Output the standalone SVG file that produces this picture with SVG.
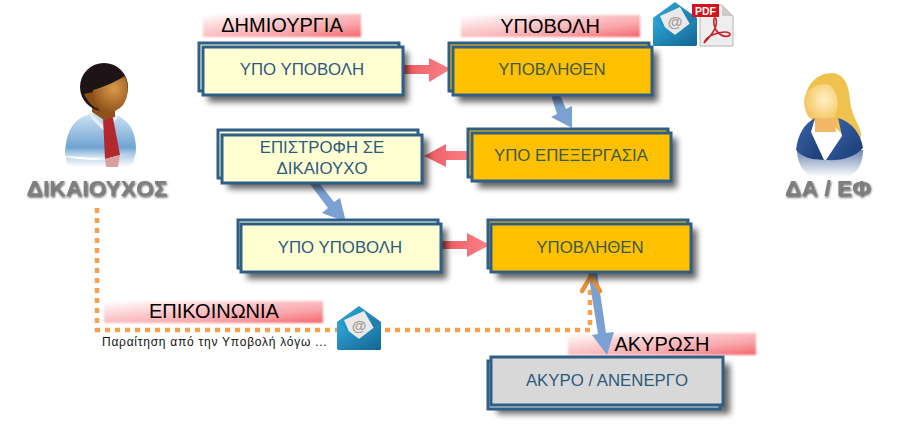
<svg xmlns="http://www.w3.org/2000/svg" width="898" height="435" viewBox="0 0 898 435">
<style>
.b{stroke:#2f5f87;stroke-width:3}
.y{fill:#ffffd2}.o{fill:#ffc000}.g{fill:#d8d8d8}
.t{font-family:"Liberation Sans",Arial,sans-serif;font-size:16.800px;fill:#2c5a7e;text-anchor:middle}
.to{fill:#3d5a4a}
.h{font-family:"Liberation Sans",Arial,sans-serif;font-size:20px;fill:#000;text-anchor:middle}
.a{font-family:"Liberation Sans",Arial,sans-serif;font-size:22.800px;font-weight:bold;fill:#7f7f7f;text-anchor:middle;filter:url(#ts)}
.s{fill:#000;opacity:.6;filter:url(#sh)}
.r{fill:url(#rib);filter:url(#soft)}
.red{fill:url(#redg)}.redl{fill:url(#redl)}.blue{fill:#7ba1d2}
</style>
<defs>
<filter id="sh" x="-15%" y="-40%" width="130%" height="180%"><feGaussianBlur stdDeviation="3"/></filter>
<filter id="soft" x="-5%" y="-30%" width="110%" height="160%"><feGaussianBlur stdDeviation="1.200"/></filter>
<filter id="ts" x="-5%" y="-20%" width="110%" height="150%"><feDropShadow dx="1" dy="1.500" stdDeviation="0.800" flood-color="#555"/></filter>
<linearGradient id="rib" x1="0" y1="0" x2="1" y2="1"><stop offset=".02" stop-color="#fff"/><stop offset=".3" stop-color="#fcd6d8"/><stop offset=".7" stop-color="#f9a4a8"/><stop offset="1" stop-color="#f2636b"/></linearGradient>
<linearGradient id="redg" x1="0" y1="0" x2="1" y2="0"><stop offset="0" stop-color="#ec5a62"/><stop offset="1" stop-color="#fb8386"/></linearGradient>
<linearGradient id="redl" x1="1" y1="0" x2="0" y2="0"><stop offset="0" stop-color="#fb8386"/><stop offset="1" stop-color="#ec5a62"/></linearGradient>
<linearGradient id="env" x1="0" y1="0" x2="1" y2="1"><stop offset="0" stop-color="#2fa9de"/><stop offset="1" stop-color="#14648f"/></linearGradient>
<linearGradient id="shirt" x1="0" y1="0" x2="0" y2="1"><stop offset="0" stop-color="#cfe4f5"/><stop offset=".75" stop-color="#6fa3d1"/><stop offset="1" stop-color="#eaf3fa"/></linearGradient>
<linearGradient id="fade" x1="0" y1="0" x2="0" y2="1"><stop offset="0" stop-color="#9fc0df"/><stop offset="1" stop-color="#fff"/></linearGradient>
<linearGradient id="fade2" x1="0" y1="0" x2="0" y2="1"><stop offset="0" stop-color="#6d86b3"/><stop offset="1" stop-color="#fff"/></linearGradient>
<radialGradient id="face" cx=".6" cy=".35" r=".7"><stop offset="0" stop-color="#d99a4a"/><stop offset="1" stop-color="#8a4e16"/></radialGradient>
<radialGradient id="face2" cx=".6" cy=".4" r=".7"><stop offset="0" stop-color="#fff0c4"/><stop offset="1" stop-color="#f3bd50"/></radialGradient>
<linearGradient id="suit" x1="0" y1="0" x2="1" y2="1"><stop offset="0" stop-color="#3a66ab"/><stop offset="1" stop-color="#1a3a72"/></linearGradient>
<g id="mail">
<path d="M0 16 L22 0 L44 16 V42 Q44 44 42 44 H2 Q0 44 0 42Z" fill="url(#env)"/>
<path d="M7 14 L27 5 L38 24 L22 33 L13 28Z" fill="#e9e9e9"/>
<text x="22" y="25" font-family="Liberation Sans,Arial,sans-serif" font-size="15" font-weight="bold" fill="#a39a96" text-anchor="middle">@</text>
<path d="M0 16 L22 33 L44 16 V42 Q44 44 42 44 H2 Q0 44 0 42Z" fill="url(#env)"/>
</g>
</defs>

<g id="ribbons">
<rect class="r" x="203" y="14" width="158" height="23"/>
<rect class="r" x="461" y="15" width="179" height="22"/>
<rect class="r" x="104" y="301" width="219" height="22"/>
<rect class="r" x="568" y="333" width="188" height="22"/>
</g>

<g id="connectors">
<path class="red" d="M403 65H429V58L451 69L429 82V74H403Z"/>
<path class="redl" d="M472 151H446V144L424 156L446 167V160H472Z"/>
<path class="red" d="M441 241H467V233L490 245L467 257V249H441Z"/>
<path class="blue" d="M551 95L560 95L566 109L572 106L572 128L551 117L557 114Z"/>
<path class="blue" d="M310 184L320 184L334 202L340 198L346 222L322 213L328 208Z"/>
<path d="M97 208V330H590V286" fill="none" stroke="#f9a04b" stroke-width="4.500" stroke-dasharray="5 5"/>
<path class="blue" d="M588 272L597 272L606 333L614 332L607 355L592 335L598 334Z"/>
<path d="M582 291L591 276L600 291" fill="none" stroke="#e8913a" stroke-width="4.500" stroke-linecap="round"/>
</g>

<g id="label-dimiourgia"><text class="h" x="282" y="32">ΔΗΜΙΟΥΡΓΙΑ</text></g>
<g id="label-ypovoli"><text class="h" x="550" y="33">ΥΠΟΒΟΛΗ</text></g>
<g id="label-epikoinonia"><text class="h" x="214" y="318">ΕΠΙΚΟΙΝΩΝΙΑ</text></g>
<g id="label-akyrosi"><text class="h" x="662" y="351">ΑΚΥΡΩΣΗ</text></g>

<g id="node-1"><rect class="s" x="208" y="52" width="200" height="50"/><rect class="b y" x="199" y="43" width="200" height="48"/><rect class="b y" x="203" y="47" width="200" height="48"/><text class="t" x="302" y="75">ΥΠΟ ΥΠΟΒΟΛΗ</text></g>
<g id="node-2"><rect class="s" x="458" y="52" width="200" height="50"/><rect class="b o" x="449" y="43" width="200" height="48"/><rect class="b o" x="453" y="47" width="199" height="48"/><text class="t to" x="552" y="75">ΥΠΟΒΛΗΘΕΝ</text></g>
<g id="node-3"><rect class="s" x="228" y="139" width="200" height="50"/><rect class="b y" x="218" y="130" width="200" height="48"/><rect class="b y" x="222" y="135" width="200" height="48"/><text class="t" x="322" y="153">ΕΠΙΣΤΡΟΦΗ ΣΕ</text><text class="t" x="322" y="174">ΔΙΚΑΙΟΥΧΟ</text></g>
<g id="node-4"><rect class="s" x="478" y="138" width="199" height="50"/><rect class="b o" x="468" y="129" width="200" height="48"/><rect class="b o" x="472" y="133" width="199" height="48"/><text class="t to" x="571" y="161">ΥΠΟ ΕΠΕΞΕΡΓΑΣΙΑ</text></g>
<g id="node-5"><rect class="s" x="247" y="229" width="200" height="50"/><rect class="b y" x="238" y="220" width="200" height="48"/><rect class="b y" x="241" y="224" width="200" height="48"/><text class="t" x="340" y="253">ΥΠΟ ΥΠΟΒΟΛΗ</text></g>
<g id="node-6"><rect class="s" x="497" y="229" width="200" height="50"/><rect class="b o" x="488" y="220" width="200" height="48"/><rect class="b o" x="491" y="224" width="200" height="48"/><text class="t to" x="590" y="253">ΥΠΟΒΛΗΘΕΝ</text></g>
<g id="node-7"><rect class="s" x="497" y="364" width="233" height="50"/><rect class="b g" x="488" y="361" width="232" height="48"/><rect class="b g" x="491" y="357" width="232" height="48"/><text class="t" x="607" y="386">ΑΚΥΡΟ / ΑΝΕΝΕΡΓΟ</text></g>

<g id="icon-mail-top"><use href="#mail" x="653" y="2"/></g>
<g id="icon-pdf">
<path d="M700 5H722L733 16V46H700Z" fill="#eee" stroke="#b5b5b5"/>
<path d="M722 5L733 16H722Z" fill="#ccc"/>
<rect x="692" y="4" width="27" height="13" fill="#d8101a"/>
<text x="705.500" y="14.500" font-family="Liberation Sans,Arial,sans-serif" font-size="10.500" font-weight="bold" fill="#fff" text-anchor="middle">PDF</text>
<path d="M704 43C713 34 718 26 716 19C714 15 712 23 716 30C720 36 726 38 730 35C731 31 721 31 712 35C708 37 705 40 704 43Z" fill="none" stroke="#c8202a" stroke-width="1.600"/>
</g>
<g id="icon-mail-bottom"><use href="#mail" x="337" y="306"/></g>
<g id="note"><text x="102" y="346" font-family="Liberation Sans,Arial,sans-serif" font-size="12" letter-spacing=".75" fill="#111">Παραίτηση από την Υποβολή λόγω ...</text></g>

<g id="actor-dikaiouchos">
<path d="M65 156C65 122 82 113 101 113C122 113 136 124 136 150C136 155 130 160 105 159Z" fill="url(#shirt)"/>
<path d="M66 157Q100 165 136 152C134 160 132 166 130 167H70C67 165 66 161 66 157Z" fill="url(#fade)"/>
<path d="M90 112L103 125L114 113L118 117L106 133L91 118Z" fill="#e4f0f9"/>
<path d="M103 118H113L120 155L105 159Z" fill="#b3282c"/>
<path d="M105 159L120 155L118 167H106Z" fill="#d9a0a0"/>
<path d="M92 103H115V117L104 120L92 112Z" fill="#8d5119"/>
<ellipse cx="104" cy="87" rx="24" ry="24" fill="#1e1418"/>
<path d="M93 90C105 87 118 80 125 76C129 85 129 97 123 105C117 112 107 115 100 111C95 106 92 99 93 90Z" fill="url(#face)"/>
<path d="M84 94C88 102 92 106 97 109L93 92Z" fill="#8a4e16"/>
<text class="a" x="97" y="196">ΔΙΚΑΙΟΥΧΟΣ</text>
</g>

<g id="actor-da-ef">
<path d="M797 150C797 165 806 176 815 177H845C856 176 863 165 863 150Z" fill="url(#fade2)"/>
<path d="M805 100C806 84 818 73 832 73C845 74 849 86 850 100C851 114 858 122 861 133C862 142 856 147 850 142L836 128L812 120Z" fill="#eec24c"/>
<path d="M804 100C806 88 818 82 830 85C838 92 840 106 835 116C828 125 815 124 808 116C805 111 804 105 804 100Z" fill="url(#face2)"/>
<path d="M815 118H835L836 134L826 143L815 134Z" fill="#f2b868"/>
<path d="M815 132L836 132L838 160H815Z" fill="#fff"/>
<path d="M796 150C798 134 804 124 815 118L811 132L824 160C812 160 802 157 796 150Z" fill="url(#suit)"/>
<path d="M863 148C861 134 852 122 838 118L842 136L826 160C842 161 855 157 863 148Z" fill="url(#suit)"/>
<text class="a" x="828" y="196">ΔΑ / ΕΦ</text>
</g>
</svg>
